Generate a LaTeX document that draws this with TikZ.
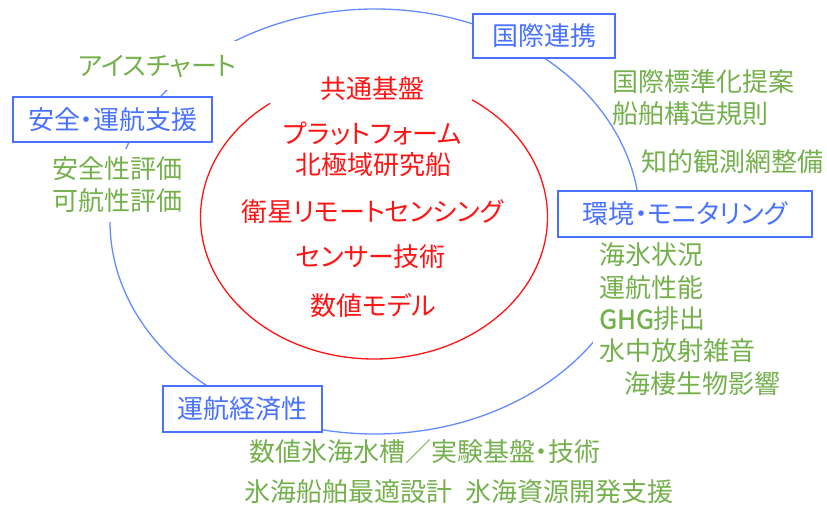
\documentclass[tikz,border=0pt]{standalone}
\usepackage{fontspec}
\setmainfont{Noto Sans CJK JP}[RawFeature=+palt]
\newfontfamily\boldlat{Noto Sans CJK JP}[FakeBold=1.2]
\definecolor{boxblue}{RGB}{72,114,255}
\definecolor{lineblue}{RGB}{100,140,255}
\definecolor{tred}{RGB}{255,20,20}
\definecolor{tgreen}{RGB}{116,176,76}
\begin{document}
\begin{tikzpicture}[x=1pt,y=-1pt,
  every node/.style={font=\fontsize{26}{30}\selectfont, text height=21.5pt, text depth=2pt},
  topic/.style={draw=boxblue, line width=1.3pt, fill=white, text=boxblue, inner sep=0pt},
  core/.style={text=tred, inner sep=0pt},
  item/.style={text=tgreen, inner xsep=4pt, inner ysep=4.5pt},
  itemw/.style={item, fill=white}]
\useasboundingbox (0,0) rectangle (827,504);
% outer cycle and inner core
\draw[lineblue, line width=1.3pt] (375,221.5) ellipse [x radius=265pt, y radius=212.5pt];
\draw[tred, line width=1.3pt] (270.1,103.3) arc [start angle=126.8, end angle=415.6, x radius=173.5pt, y radius=142pt];
% core texts
\node[core] (c1) at (372.5,89) {共通基盤};
\node[core] (c2) at (372.5,134) {プラットフォーム};
\node[core] (c3) at (373.5,165) {北極域研究船};
\node[core] (c4) at (372.5,211.5) {衛星リモートセンシング};
\node[core] (c5) at (371,256.5) {センサー技術};
\node[core] (c6) at (373.5,306) {数値モデル};
% green items
\node[itemw, inner ysep=12.5pt] (ice) at (157.5,65.5) {アイスチャート};
\node[itemw, inner ysep=8pt] (s1) at (117,169) {安全性評価};
\node[itemw, inner ysep=9.5pt] (s2) at (117.5,201) {可航性評価};
\node[item, anchor=west] (k1) at (608,81.5) {国際標準化提案};
\node[item, anchor=west] (k2) at (608,113.5) {船舶構造規則};
\node[item, anchor=west] (k3) at (637,161.5) {知的観測網整備};
\node[itemw, anchor=west] (e1) at (595,254.5) {海氷状況};
\node[itemw, anchor=west] (e2) at (595,287.5) {運航性能};
\node[itemw, anchor=west] (e3) at (595,319) {{\boldlat GHG}排出};
\node[itemw, anchor=west, inner xsep=6pt] (e4) at (593,351) {水中放射雑音};
\node[item, anchor=west] (e5) at (620,383.5) {海棲生物影響};
\node[item, anchor=west] (b1) at (245,451.5) {数値氷海水槽／実験基盤・技術};
\node[item, anchor=west] (b2) at (240,491.5) {氷海船舶最適設計\hspace{0.5em}氷海資源開発支援};
% topic boxes
\node[topic, minimum width=142pt, minimum height=44pt] (kokusai) at (544,36) {国際連携};
\node[topic, minimum width=199pt, minimum height=45pt] (anzen) at (112.5,119.5) {安全・運航支援};
\node[topic, minimum width=254pt, minimum height=46pt] (kankyo) at (685,214) {環境・モニタリング};
\node[topic, minimum width=159pt, minimum height=46pt] (keizai) at (242.5,409) {運航経済性};
\end{tikzpicture}
\end{document}
